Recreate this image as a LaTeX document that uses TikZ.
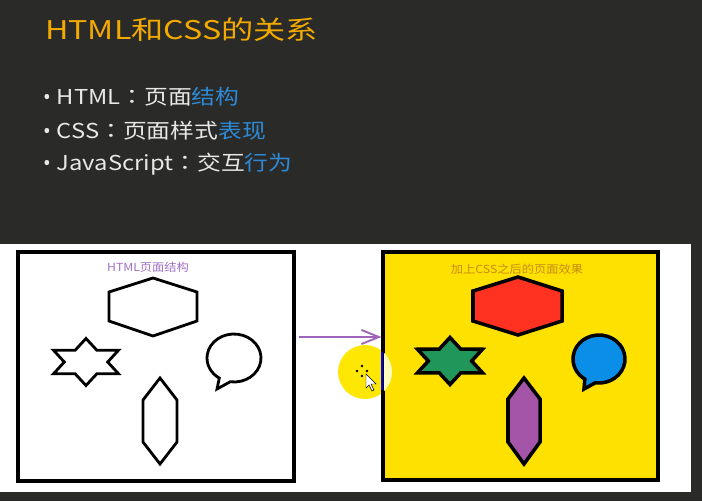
\documentclass[tikz,border=0pt]{standalone}
\usepackage{fontspec}
\setmainfont{Noto Sans CJK SC}
\newfontfamily\widefont[FakeStretch=1.25]{Noto Sans CJK SC}
\newfontfamily\itemfont[FakeStretch=1.16]{Noto Sans CJK SC}
\newfontfamily\colonfont[FakeStretch=1.16]{Noto Sans CJK TC}
\newfontfamily\bulletfont{Noto Sans}
\newfontfamily\labelfont[FakeStretch=1.1]{Noto Sans CJK SC}
\usepackage{tikz}
\usetikzlibrary{arrows.meta}

\definecolor{slidebg}{HTML}{2A2A28}
\definecolor{titleorange}{HTML}{F2A900}
\definecolor{itemwhite}{HTML}{E8E8E8}
\definecolor{itemblue}{HTML}{2E8AD6}
\definecolor{labelpurple}{HTML}{A070C0}
\definecolor{labelbrown}{HTML}{C48C14}
\definecolor{arrowpurple}{HTML}{A064B8}
\definecolor{boxyellow}{HTML}{FFE100}
\definecolor{hexred}{HTML}{FF3222}
\definecolor{stargreen}{HTML}{20965A}
\definecolor{bubbleblue}{HTML}{0A8EE8}
\definecolor{longpurple}{HTML}{A455A8}

\newcommand{\itembullet}{{\bulletfont •}\hspace{5pt}}
\newcommand{\fwcolon}{{\colonfont ：}}

\tikzset{
  itemtext/.style={anchor=base west, inner sep=0pt, text=itemwhite, font=\itemfont\fontsize{17.5}{20}\selectfont},
  panelbox/.style={draw=black, line width=2.6pt, rectangle, inner sep=0pt},
  shapeline/.style={draw=black, line width=2.4pt, line join=miter},
  boldline/.style={draw=black, line width=3pt, line join=miter},
  boxlabel/.style={inner sep=0pt, font=\labelfont\fontsize{9.5}{11}\selectfont}
}

\begin{document}
\begin{tikzpicture}[x=0.03cm, y=-0.03cm]
% background
\fill[slidebg] (0,0) rectangle (702,501);
\useasboundingbox (0,0) rectangle (702,501);
\fill[white] (0,244) rectangle (691,492);
% title and items
\node[anchor=base west, inner sep=0pt, text=titleorange, font=\widefont\fontsize{22}{26}\selectfont] (title) at (45,39) {HTML和CSS的关系};
\node[itemtext] (item1) at (43,104) {\itembullet HTML\fwcolon 页面\textcolor{itemblue}{结构}};
\node[itemtext] (item2) at (43,138) {\itembullet CSS\fwcolon 页面样式\textcolor{itemblue}{表现}};
\node[itemtext] (item3) at (43,170) {\itembullet JavaScript\fwcolon 交互\textcolor{itemblue}{行为}};
% cursor spot
\fill[yellow!90!orange] (365,372) circle[radius=27];
% panels
\node[panelbox, minimum width=8.28cm, minimum height=6.87cm] (htmlbox) at (156,366.5) {};
\node[panelbox, fill=boxyellow, minimum width=8.25cm, minimum height=6.84cm] (cssbox) at (520.5,366) {};
\begin{scope}
\clip (384,252) rectangle (658,480);
\fill[yellow!25] (365,372) circle[radius=27];
\end{scope}
\node[boxlabel, text=labelpurple] (htmllabel) at (148,267) {HTML页面结构};
\node[boxlabel, text=labelbrown] (csslabel) at (517,269) {加上CSS之后的页面效果};
% arrow between panels
\coordinate (arrowstart) at (299,337);
\draw[arrowpurple, line width=1.6pt, -{Straight Barb[length=15pt, width=12pt]}] (arrowstart) -- (arrowstart -| cssbox.west);
\draw[blue, line width=1.6pt] (382,352) -- (382,390);
% cursor
\foreach \dx/\dy in {-5/0, 5/0, 0/-5, 0/5}
  \fill[black] (362+\dx,371+\dy) circle[radius=1.3];
\draw[black, fill=white, line width=0.4pt] (366,374) -- (366,388) -- (369,385) -- (372,391) -- (374,390) -- (371,384) -- (376,384) -- cycle;
% left shapes
\draw[shapeline] (153,278) -- (197,292) -- (197,321) -- (153,336) -- (109,321) -- (109,292) -- cycle;
\draw[shapeline] (160,378) -- (177,400) -- (177,442) -- (160,464) -- (143,442) -- (143,400) -- cycle;
\begin{scope}[shift={(86,362)}]
\draw[shapeline] (-90:37.5 and 23.5) -- (-60:21.7 and 13.6) -- (-30:37.5 and 23.5) -- (0:21.7 and 13.6)
  -- (30:37.5 and 23.5) -- (60:21.7 and 13.6) -- (90:37.5 and 23.5) -- (120:21.7 and 13.6)
  -- (150:37.5 and 23.5) -- (180:21.7 and 13.6) -- (210:37.5 and 23.5) -- (240:21.7 and 13.6) -- cycle;
\end{scope}
\begin{scope}[shift={(234,358)}]
\draw[shapeline] (98:27 and 24) arc[start angle=98, end angle=-237, x radius=27, y radius=24] -- (-17,31) -- cycle;
\end{scope}
% right shapes
\draw[boldline, fill=hexred] (518,277) -- (562,291) -- (562,321) -- (518,335) -- (473,321) -- (473,291) -- cycle;
\draw[boldline, fill=longpurple] (524,378) -- (540,399) -- (540,442) -- (524,464) -- (508,442) -- (508,399) -- cycle;
\begin{scope}[shift={(450,361)}]
\draw[boldline, fill=stargreen] (-90:37.5 and 23.5) -- (-60:21.7 and 13.6) -- (-30:37.5 and 23.5) -- (0:21.7 and 13.6)
  -- (30:37.5 and 23.5) -- (60:21.7 and 13.6) -- (90:37.5 and 23.5) -- (120:21.7 and 13.6)
  -- (150:37.5 and 23.5) -- (180:21.7 and 13.6) -- (210:37.5 and 23.5) -- (240:21.7 and 13.6) -- cycle;
\end{scope}
\begin{scope}[shift={(599,359)}]
\draw[boldline, fill=bubbleblue] (98:26 and 24) arc[start angle=98, end angle=-237, x radius=26, y radius=24] -- (-15,30) -- cycle;
\end{scope}
\end{tikzpicture}
\end{document}
